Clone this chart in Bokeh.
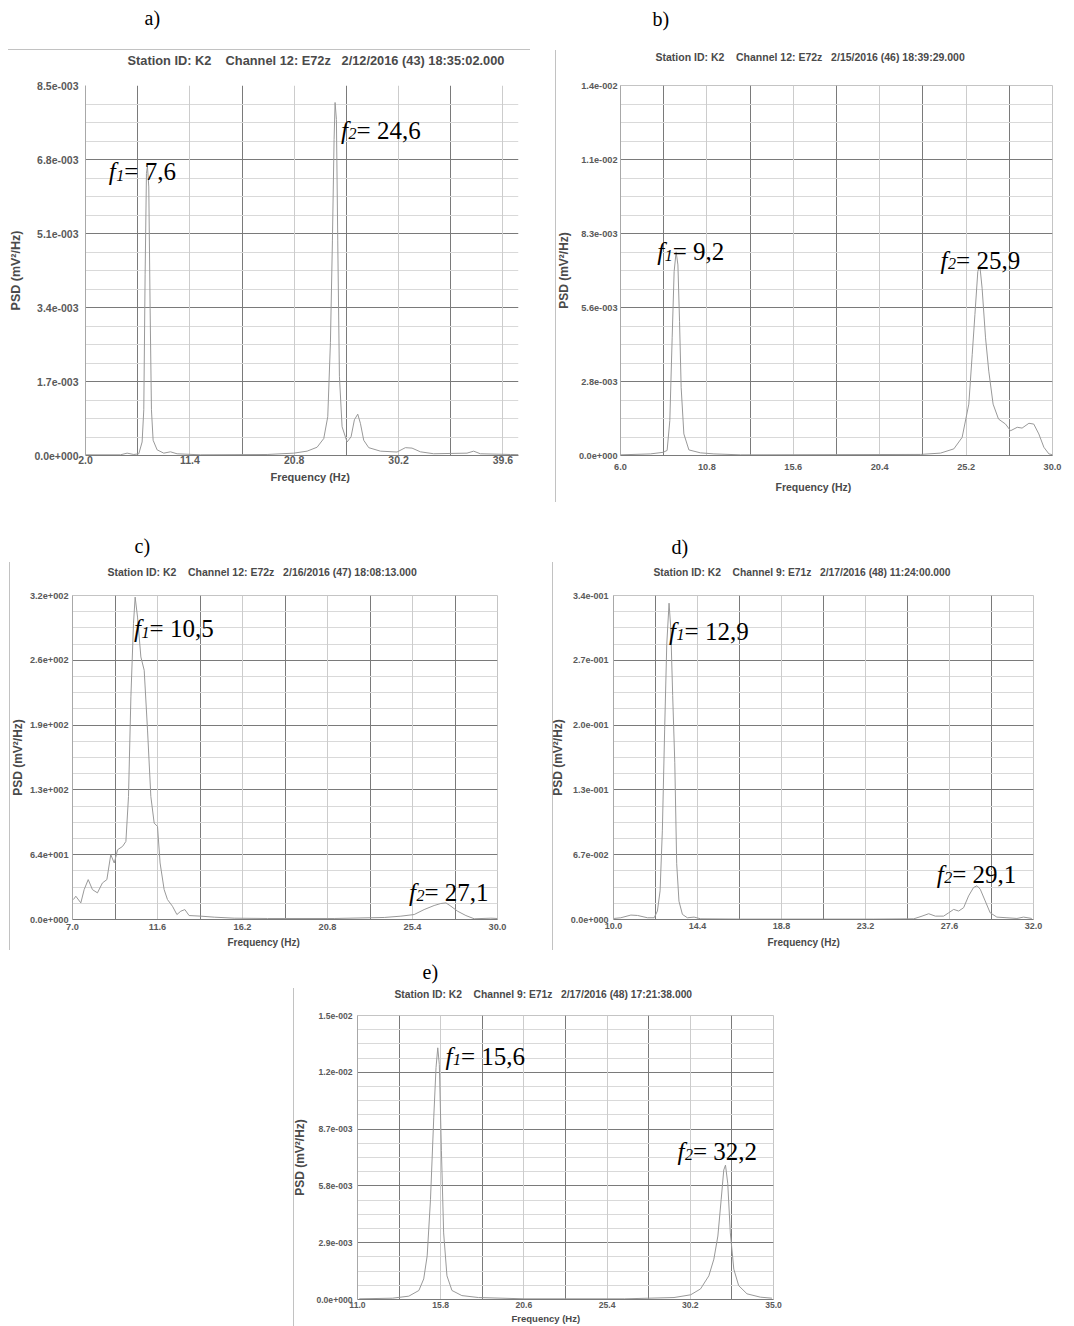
import math
from bokeh.plotting import figure
from bokeh.layouts import column, row
from bokeh.models import Range1d, FixedTicker, CustomJSTickFormatter, Grid, Label, Spacer, Title
from bokeh.embed import file_html
from bokeh.resources import INLINE

# ---------------- data ----------------
x_title = "Frequency (Hz)"
y_title = "PSD (mV\u00b2/Hz)"
NB = "\u00a0"

# a)
a_letter = "a)"
a_header = ["Station ID: K2", "Channel 12: E72z", "2/12/2016 (43) 18:35:02.000"]
a_freq = [2.00, 5.15, 5.75, 6.35, 6.80, 7.10, 7.25, 7.37, 7.49, 7.58, 7.70, 7.82, 7.94, 8.09,
          8.45, 9.05, 9.65, 10.25, 12.35, 18.36, 20.76, 21.96, 22.86, 23.46, 23.82, 24.06,
          24.24, 24.39, 24.48, 24.60, 24.72, 24.87, 25.11, 25.56, 25.92, 26.22, 26.52, 26.76,
          27.06, 27.51, 28.56, 30.06, 30.81, 31.41, 32.16, 33.36, 36.36, 36.96, 37.56, 40.27, 41.0]
a_psd = [1.6e-5, 1.6e-5, 5.4e-5, 2.3e-5, 3.9e-5, 3.1e-4, 1.05e-3, 4.15e-3, 6.48e-3, 6.65e-3,
         6.17e-3, 3.38e-3, 1.05e-3, 3.5e-4, 1.3e-4, 5.4e-5, 8.5e-5, 3.9e-5, 1.6e-5, 2.3e-5,
         5.4e-5, 1.0e-4, 1.9e-4, 3.9e-4, 8.9e-4, 2.60e-3, 4.93e-3, 7.26e-3, 8.11e-3, 7.72e-3,
         4.93e-3, 1.82e-3, 6.6e-4, 3.1e-4, 4.3e-4, 8.2e-4, 9.5e-4, 7.4e-4, 3.5e-4, 1.8e-4,
         1.0e-4, 8.0e-5, 1.8e-4, 1.7e-4, 8.5e-5, 4.0e-5, 5.4e-5, 1.0e-4, 4.0e-5, 2.3e-5, 2.0e-5]
a_xticks = [2.0, 11.4, 20.8, 30.2, 39.6]
a_xlabels = ["2.0", "11.4", "20.8", "30.2", "39.6"]
a_yticks = [0.0, 0.0017, 0.0034, 0.0051, 0.0068, 0.0085]
a_ylabels = ["0.0e+000", "1.7e-003", "3.4e-003", "5.1e-003", "6.8e-003", "8.5e-003"]
a_peaks = [("1", "7,6"), ("2", "24,6")]

# b)
b_letter = "b)"
b_header = ["Station ID: K2", "Channel 12: E72z", "2/15/2016 (46) 18:39:29.000"]
b_freq = [6.00, 7.67, 8.37, 8.59, 8.74, 8.87, 8.98, 9.09, 9.19, 9.28, 9.37, 9.52, 9.80, 10.44,
          11.19, 12.67, 22.67, 23.78, 24.52, 24.98, 25.35, 25.54, 25.69, 25.85, 25.96, 26.09,
          26.28, 26.46, 26.70, 27.00, 27.39, 27.67, 28.04, 28.31, 28.69, 28.96, 29.24, 29.52,
          29.80, 30.0]
b_psd = [2.5e-5, 6.0e-5, 1.2e-4, 1.9e-4, 1.31e-3, 4.42e-3, 6.91e-3, 7.65e-3, 7.16e-3, 5.04e-3,
         2.55e-3, 8.1e-4, 2.1e-4, 1.0e-4, 6.0e-5, 2.5e-5, 4.0e-5, 9.0e-5, 2.5e-4, 6.8e-4,
         1.93e-3, 3.80e-3, 5.29e-3, 6.91e-3, 7.16e-3, 6.28e-3, 4.42e-3, 3.17e-3, 1.93e-3, 1.37e-3,
         1.18e-3, 9.3e-4, 1.06e-3, 1.03e-3, 1.21e-3, 1.18e-3, 8.1e-4, 3.1e-4, 6.0e-5, 3.0e-5]
b_xticks = [6.0, 10.8, 15.6, 20.4, 25.2, 30.0]
b_xlabels = ["6.0", "10.8", "15.6", "20.4", "25.2", "30.0"]
b_yticks = [0.0, 0.00278, 0.00556, 0.00834, 0.01112, 0.0139]
b_ylabels = ["0.0e+000", "2.8e-003", "5.6e-003", "8.3e-003", "1.1e-002", "1.4e-002"]
b_peaks = [("1", "9,2"), ("2", "25,9")]

# c)
c_letter = "c)"
c_header = ["Station ID: K2", "Channel 12: E72z", "2/16/2016 (47) 18:08:13.000"]
c_freq = [7.05, 7.18, 7.45, 7.63, 7.85, 8.08, 8.35, 8.62, 8.86, 9.07, 9.26, 9.44, 9.71, 9.89,
          10.03, 10.16, 10.30, 10.39, 10.52, 10.70, 10.88, 11.06, 11.24, 11.42, 11.60, 11.74,
          11.96, 12.14, 12.41, 12.65, 12.86, 13.08, 13.31, 13.95, 14.67, 15.75, 17.55, 21.16,
          23.87, 24.77, 25.49, 26.03, 26.57, 26.93, 27.21, 27.48, 27.84, 28.29, 28.74, 29.64, 30.0]
c_psd = [19.7, 23.0, 16.4, 29.5, 39.4, 29.5, 26.3, 36.1, 39.4, 64.0, 55.8, 68.9, 72.2, 77.1,
         121.4, 219.9, 292.1, 318.4, 298.7, 259.3, 246.2, 187.1, 121.4, 95.2, 91.9, 55.8,
         29.5, 19.7, 13.1, 4.9, 8.2, 9.8, 3.9, 3.3, 2.3, 1.3, 1.0, 1.0, 2.0, 3.3, 4.9, 9.8,
         13.8, 15.8, 16.4, 13.1, 8.2, 3.9, 0.7, 1.3, 1.0]
c_xticks = [7.0, 11.6, 16.2, 20.8, 25.4, 30.0]
c_xlabels = ["7.0", "11.6", "16.2", "20.8", "25.4", "30.0"]
c_yticks = [0.0, 64.0, 128.0, 192.0, 256.0, 320.0]
c_ylabels = ["0.0e+000", "6.4e+001", "1.3e+002", "1.9e+002", "2.6e+002", "3.2e+002"]
c_peaks = [("1", "10,5"), ("2", "27,1")]

# d)
d_letter = "d)"
d_header = ["Station ID: K2", "Channel 9: E71z", "2/17/2016 (48) 11:24:00.000"]
d_freq = [10.03, 10.38, 10.91, 11.26, 11.78, 12.13, 12.30, 12.44, 12.56, 12.68, 12.79, 12.91,
          13.00, 13.10, 13.21, 13.31, 13.43, 13.61, 13.87, 14.22, 14.57, 16.66, 23.63, 25.73,
          26.16, 26.51, 26.86, 27.29, 27.56, 27.82, 28.08, 28.34, 28.60, 28.86, 29.04, 29.21,
          29.47, 29.73, 30.08, 30.61, 31.13, 31.48, 31.91]
d_psd = [0.0011, 0.0018, 0.0046, 0.0042, 0.0018, 0.0018, 0.0088, 0.0298, 0.0929, 0.198, 0.286,
         0.329, 0.303, 0.233, 0.163, 0.058, 0.019, 0.0053, 0.0018, 0.0025, 0.0007, 0.0004,
         0.0004, 0.0007, 0.0035, 0.006, 0.0035, 0.0035, 0.007, 0.0105, 0.0088, 0.0123, 0.0245,
         0.0333, 0.0351, 0.0315, 0.0193, 0.007, 0.0025, 0.0018, 0.0011, 0.0025, 0.0011]
d_xticks = [10.0, 14.4, 18.8, 23.2, 27.6, 32.0]
d_xlabels = ["10.0", "14.4", "18.8", "23.2", "27.6", "32.0"]
d_yticks = [0.0, 0.0674, 0.1348, 0.2022, 0.2696, 0.337]
d_ylabels = ["0.0e+000", "6.7e-002", "1.3e-001", "2.0e-001", "2.7e-001", "3.4e-001"]
d_peaks = [("1", "12,9"), ("2", "29,1")]

# e)
e_letter = "e)"
e_header = ["Station ID: K2", "Channel 9: E71z", "2/17/2016 (48) 17:21:38.000"]
e_freq = [11.10, 13.01, 13.96, 14.54, 14.82, 15.02, 15.21, 15.40, 15.53, 15.63, 15.72, 15.84,
          15.97, 16.16, 16.45, 17.02, 17.98, 20.66, 26.39, 29.26, 30.22, 30.79, 31.27, 31.56,
          31.79, 31.98, 32.13, 32.23, 32.36, 32.51, 32.71, 32.99, 33.47, 34.24, 34.91]
e_psd = [3.4e-5, 6.7e-5, 1.7e-4, 4.6e-4, 1.05e-3, 2.23e-3, 5.09e-3, 9.31e-3, 1.184e-2, 1.285e-2,
         1.200e-2, 7.62e-3, 3.40e-3, 1.21e-3, 4.6e-4, 2.0e-4, 1.0e-4, 3.4e-5, 3.4e-5, 1.0e-4,
         2.4e-4, 5.4e-4, 1.21e-3, 2.06e-3, 3.24e-3, 5.09e-3, 6.61e-3, 6.86e-3, 5.93e-3, 3.40e-3,
         1.55e-3, 7.1e-4, 2.9e-4, 1.2e-4, 6.7e-5]
e_xticks = [11.0, 15.8, 20.6, 25.4, 30.2, 35.0]
e_xlabels = ["11.0", "15.8", "20.6", "25.4", "30.2", "35.0"]
e_yticks = [0.0, 0.0029, 0.0058, 0.0087, 0.0116, 0.0145]
e_ylabels = ["0.0e+000", "2.9e-003", "5.8e-003", "8.7e-003", "1.2e-002", "1.5e-002"]
e_peaks = [("1", "15,6"), ("2", "32,2")]

# ---------------- layout / style ----------------
SANS = "Liberation Sans"
SERIF = "Liberation Serif"
DARK = "#7a7a7a"
LIGHT = "#cccccc"
MINOR = "#d9d9d9"
TXT = "#4a4a4a"
EDGE = "#c2c2c2"

FMT = """
let best = 0;
for (let i = 0; i < tv.length; i++) {
  if (Math.abs(tv[i] - tick) < Math.abs(tv[best] - tick)) best = i;
}
return lab[best];
"""


def hsize(px):
    return 1.117 * px


def panel(freq, psd, xticks, xlabels, yticks, ylabels, header, letter, peaks, g):
    ex, ey, ew, eh = g["edge"]
    edge_css = {
        "background-color": "white",
        "background-image": f"linear-gradient({EDGE}, {EDGE})",
        "background-repeat": "no-repeat",
        "background-size": f"{ew}px {eh}px",
        "background-position": f"{ex}px {ey}px",
    }
    p = figure(width=g["W"], height=g["H"], x_range=Range1d(g["xr"][0], g["xr"][1]),
               y_range=Range1d(0, yticks[-1]), output_backend="svg", toolbar_location=None,
               min_border_left=g["bl"], min_border_right=g["br"], min_border_top=g["bt"],
               min_border_bottom=g["bb"], background_fill_color="white",
               border_fill_color="white", border_fill_alpha=0, styles=edge_css)
    p.outline_line_color = g.get("outline", "#c4c4c4")

    # --- above: header (nearest the frame), panel letter, filler ---
    bh = 2 * g["dH"]
    bl = max(2, 2 * (g["dL"] - bh))
    filler = max(0, g["bt"] - bh - bl)
    head_text = (NB * 4).join(header[:2]) + NB * 3 + header[2]
    p.add_layout(Title(text=head_text, align="left", offset=g["hoff"], vertical_align="middle",
                       standoff=bh - 2 - hsize(g["hs"]), text_font=SANS, text_font_style="bold",
                       text_font_size=f"{g['hs']}px", text_color=TXT), "above")
    p.add_layout(Title(text=letter, align="left", offset=g["loff"], vertical_align="middle",
                       standoff=bl - 2 - 1.107 * 20, text_font=SERIF, text_font_style="normal",
                       text_font_size="20px", text_color="black"), "above")
    if filler > 0:
        p.add_layout(Title(text=NB, text_font_size="2px", standoff=filler - 2 - hsize(2),
                           text_color="white", text_alpha=0), "above")

    xa, ya = p.xaxis[0], p.yaxis[0]
    xa.ticker = FixedTicker(ticks=xticks)
    xa.formatter = CustomJSTickFormatter(args=dict(tv=xticks, lab=xlabels), code=FMT)
    ya.ticker = FixedTicker(ticks=yticks)
    ya.formatter = CustomJSTickFormatter(args=dict(tv=yticks, lab=ylabels), code=FMT)
    ya.axis_label = y_title
    for ax in (xa, ya):
        ax.major_tick_line_color = None
        ax.minor_tick_line_color = None
        ax.major_tick_out = 0
        ax.major_tick_in = 0
        ax.major_label_text_font = SANS
        ax.major_label_text_font_style = "bold"
        ax.major_label_text_color = "#5a5a5a"
        ax.major_label_text_font_size = f"{g['tick']}px"
    ya.axis_label_text_font = SANS
    ya.axis_label_text_font_style = "bold"
    ya.axis_label_text_font_size = f"{g['ysz']}px"
    ya.axis_label_text_color = TXT
    xa.axis_line_color = DARK
    ya.axis_line_color = "#a8a8a8"
    xa.major_label_standoff = g["xs1"]
    ya.major_label_standoff = g["ys1"]
    ya.axis_label_standoff = g["ys2"]

    # --- below: x title as a left-aligned title under the axis ---
    axis_h = g["xs1"] + hsize(g["tick"])
    bx = 2 * (g["dX"] - axis_h)
    p.add_layout(Title(text=x_title, align="left", offset=g["xoff"], vertical_align="middle",
                       standoff=bx - 2 - hsize(g["xsz"]), text_font=SANS, text_font_style="bold",
                       text_font_size=f"{g['xsz']}px", text_color=TXT), "below")

    # vertical grid: dark between labels, light at labels
    mids = [(xticks[i] + xticks[i + 1]) / 2 for i in range(len(xticks) - 1)]
    p.xgrid.ticker = FixedTicker(ticks=mids)
    p.xgrid.grid_line_color = DARK
    p.add_layout(Grid(dimension=0, ticker=FixedTicker(ticks=xticks), grid_line_color=LIGHT))
    # horizontal grid: dark at labels, light quarter lines
    minor = []
    for i in range(len(yticks) - 1):
        step = (yticks[i + 1] - yticks[i]) / 4
        minor += [yticks[i] + step * k for k in (1, 2, 3)]
    p.ygrid.ticker = FixedTicker(ticks=yticks, minor_ticks=minor)
    p.ygrid.grid_line_color = DARK
    p.ygrid.minor_grid_line_color = MINOR

    p.line(freq, psd, line_color="#999999", line_width=1)

    S = 25
    for (sub, val), (px, py) in zip(peaks, g["notes"]):
        p.add_layout(Label(x=px, y=py, text="f", text_font=SERIF, text_font_style="italic",
                           text_font_size=f"{S}px", text_baseline="alphabetic", text_color="black"))
        p.add_layout(Label(x=px, y=py, x_offset=0.30 * S, y_offset=-0.14 * S, text=sub,
                           text_font=SERIF, text_font_style="italic",
                           text_font_size=f"{0.64 * S:.1f}px", text_baseline="alphabetic",
                           text_color="black"))
        p.add_layout(Label(x=px, y=py, x_offset=0.62 * S, text="= " + val, text_font=SERIF,
                           text_font_size=f"{S}px", text_baseline="alphabetic", text_color="black"))
    return p


# Row 1: y 0..530 (frames 85..455), Row 2: 530..958 (frames 595..919), Row 3: 958..1326
ga = dict(W=540, H=530, bl=85, br=22, bt=85, bb=75, xr=(2.0, 41.0), outline=None,
          tick=10.5, xs1=0, ys1=7, ys2=8, ysz=12.5, xsz=11, dX=22, xoff=185,
          hs=12.8, hoff=42, dH=25, loff=59, dL=67, edge=(8, 49, 522, 1),
          notes=[(4.10, 6.52e-3), (25.02, 7.47e-3)])
gb = dict(W=534, H=530, bl=80, br=22, bt=85, bb=75, xr=(6.0, 30.0),
          tick=9.2, xs1=8, ys1=3, ys2=5, ysz=12, xsz=10.5, dX=32, xoff=155,
          hs=10.5, hoff=35, dH=29, loff=32, dL=67, edge=(15, 50, 1, 452),
          notes=[(8.04, 7.65e-3), (23.78, 7.34e-3)])
gc = dict(W=540, H=428, bl=72, br=43, bt=65, bb=39, xr=(7.0, 30.0),
          tick=9.2, xs1=4, ys1=4, ys2=2, ysz=12, xsz=10, dX=24, xoff=155,
          hs=10.5, hoff=35, dH=24, loff=62, dL=50, edge=(9, 32, 1, 388),
          notes=[(10.33, 287.2), (25.21, 26.9)])
gd = dict(W=534, H=428, bl=73, br=41, bt=65, bb=39, xr=(10.0, 32.0),
          tick=9.0, xs1=3, ys1=5, ys2=3, ysz=12, xsz=10, dX=24, xoff=154,
          hs=10.3, hoff=40, dH=24, loff=58, dL=50, edge=(12, 32, 1, 388),
          notes=[(12.91, 0.300), (26.93, 0.047)])
ge = dict(W=503, H=368, bl=65, br=20, bt=57, bb=27, xr=(11.0, 35.0),
          tick=8.6, xs1=2, ys1=5, ys2=6, ysz=12, xsz=9.5, dX=19.4, xoff=154,
          hs=10.3, hoff=37, dH=22, loff=65, dL=40, edge=(3, 30, 1, 338),
          notes=[(16.07, 12.42e-3), (29.46, 7.56e-3)])

pa = panel(a_freq, a_psd, a_xticks, a_xlabels, a_yticks, a_ylabels, a_header, a_letter, a_peaks, ga)
pb = panel(b_freq, b_psd, b_xticks, b_xlabels, b_yticks, b_ylabels, b_header, b_letter, b_peaks, gb)
pc = panel(c_freq, c_psd, c_xticks, c_xlabels, c_yticks, c_ylabels, c_header, c_letter, c_peaks, gc)
pd = panel(d_freq, d_psd, d_xticks, d_xlabels, d_yticks, d_ylabels, d_header, d_letter, d_peaks, gd)
pe = panel(e_freq, e_psd, e_xticks, e_xlabels, e_yticks, e_ylabels, e_header, e_letter, e_peaks, ge)

layout = column(row(pa, pb), row(pc, pd), row(Spacer(width=290, height=368), pe))

open("out.html", "w").write(file_html(layout, INLINE))
